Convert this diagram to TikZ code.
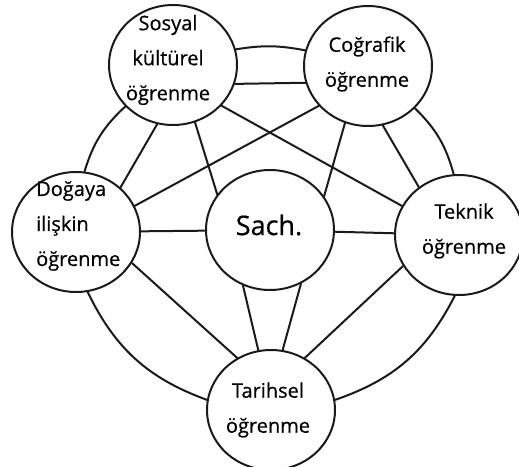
\documentclass[tikz,border=0pt]{standalone}
\usepackage{fontspec}
\setmainfont{Open Sans}[FakeBold=0.6]
\usepackage{tikz}
\usetikzlibrary{shapes.geometric,positioning,calc}
\definecolor{lnInk}{HTML}{1A1A1A}
\tikzset{
    lnArea/.style={
        ellipse,
        draw=lnInk,
        line width=2pt,
        fill=white,
        minimum width=128pt,
        minimum height=120pt,
        inner sep=0pt
    },
    lnText/.style={
        font=\fontsize{20}{35}\selectfont,
        align=center,
        inner sep=0pt
    },
    lnCore/.style={lnText, font=\fontsize{27}{30}\selectfont},
    % Connectors
    lnLink/.style={draw=lnInk, line width=2pt, line cap=round}
}

\begin{document}
\begin{tikzpicture}[x=1pt,y=-1pt]
\useasboundingbox (0,0) rectangle (519,466);

% learning areas
\node[lnArea] (sosyal)  at (173,65)  {};
\node[lnArea] (cografi) at (368,66)  {};
\node[lnArea] (dogaya)  at (76,232)  {};
\node[lnArea] (sach)    at (270,230) {};
\node[lnArea] (teknik)  at (459,235) {};
\node[lnArea] (tarih)   at (271,410) {};

% outer ring
\draw[lnLink] (sosyal.14)   to[bend left=10]  (cografi.166);
\draw[lnLink] (sosyal.221)  to[bend right=15] (dogaya.82);
\draw[lnLink] (cografi.318) to[bend left=15]  (teknik.95);
\draw[lnLink] (dogaya.281)  to[bend right=22] (tarih.171);
\draw[lnLink] (teknik.266)  to[bend left=22]  (tarih.9);

% inner links
\draw[lnLink] (sosyal.-17)  -- (cografi.195);
\draw[lnLink] (sosyal.255)  -- (dogaya.45);
\draw[lnLink] (sosyal.291)  -- (sach.146);
\draw[lnLink] (sosyal.320)  -- (teknik.153);
\draw[lnLink] (cografi.219) -- (dogaya.24);
\draw[lnLink] (cografi.248) -- (sach.32);
\draw[lnLink] (cografi.284) -- (teknik.130);
\draw[lnLink] (dogaya) -- (sach);
\draw[lnLink] (sach) -- (teknik);
\draw[lnLink] (dogaya.331)  -- (tarih.123);
\draw[lnLink] (sach.244)    -- (tarih.102);
\draw[lnLink] (sach.300)    -- (tarih.79);
\draw[lnLink] (teknik.209)  -- (tarih.57);

% labels
\node[lnText] (sosyalTxt)  at (168,60)  {Sosyal\\kültürel\\öğrenme};
\node[lnText] (cografiTxt) at (367,64)  {Coğrafik\\öğrenme};
\node[lnText, align=left, anchor=west] (dogayaTxt) at (36,226) {Doğaya\\ilişkin\\öğrenme};
\node[lnCore] (sachTxt)    at (269,225) {Sach.};
\node[lnText] (teknikTxt)  at (464,231) {Teknik\\öğrenme};
\node[lnText] (tarihTxt)   at (268,410) {Tarihsel\\öğrenme};
\end{tikzpicture}
\end{document}
